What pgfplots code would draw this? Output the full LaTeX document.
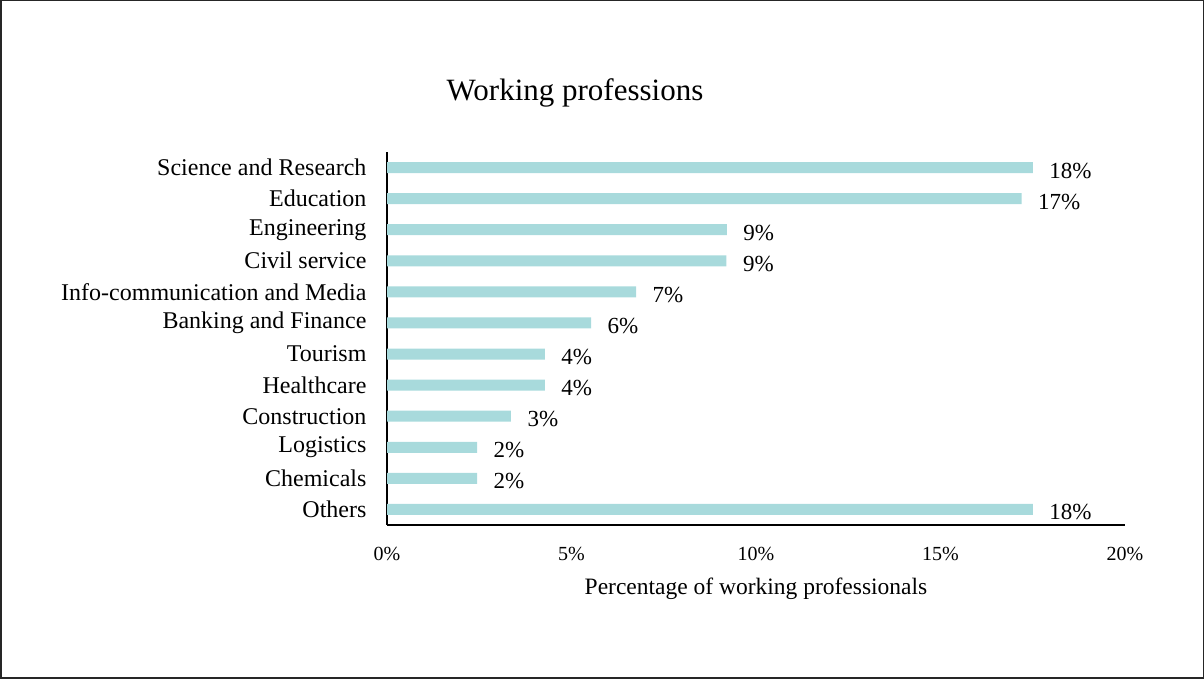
\documentclass[border=0pt]{standalone}
\usepackage{fontspec}
\setmainfont{Liberation Serif}
\usepackage{pgfplots}
\pgfplotsset{compat=1.18}
\definecolor{barc}{RGB}{168,218,220}
\begin{document}
\begin{tikzpicture}[x=1pt,y=1pt]
\draw[line width=1.5pt, color=black!85] (0.75,0.75) rectangle (1203.25,678.25);
\node[font=\fontsize{31}{36}\selectfont] at (575,586) {Working professions};
\begin{axis}[
  at={(387pt,154pt)}, anchor=south west,
  scale only axis, width=738pt, height=373pt,
  xbar, bar width=11pt,
  xmin=0, xmax=20, ymin=-0.5, ymax=11.5,
  axis lines*=left,
  axis line style={line width=1.5pt, black},
  major tick length=0pt,
  /pgf/number format/assume math mode=true,
  xtick={0,5,10,15,20},
  xticklabels={0\%,5\%,10\%,15\%,20\%},
  ytick={0,...,11},
  yticklabels={Others,Chemicals,Logistics,Construction,Healthcare,Tourism,Banking and Finance,Info-communication and Media,Civil service,Engineering,Education,Science and Research},
  xticklabel style={font=\fontsize{20}{24}\selectfont, yshift=-19pt},
  yticklabel style={font=\fontsize{24}{28}\selectfont, xshift=-17pt},
  xlabel={Percentage of working professionals},
  xlabel style={font=\fontsize{23.5}{27}\selectfont, yshift=-10pt},
  nodes near coords={\pgfmathprintnumber{\pgfplotspointmeta}\%},
  point meta=explicit,
  every node near coord/.append style={font=\fontsize{23}{27}\selectfont, anchor=west, xshift=13pt, yshift=-3pt, black},
]
\addplot[fill=barc, draw=none] table[x=v, y=i, meta=lab] {
i v lab
11 17.5 18
10 17.2 17
9 9.21 9
8 9.2 9
7 6.75 7
6 5.53 6
5 4.28 4
4 4.28 4
3 3.36 3
2 2.44 2
1 2.44 2
0 17.5 18
};
\end{axis}
\end{tikzpicture}
\end{document}
